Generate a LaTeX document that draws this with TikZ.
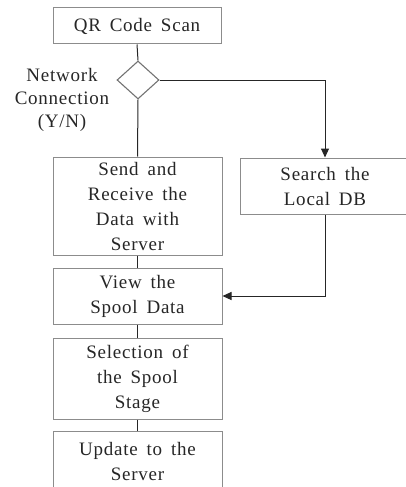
\documentclass[tikz,border=0pt]{standalone}
\usepackage{fontspec}
\setmainfont{Liberation Serif}[LetterSpace=4,WordSpace=1.6]
\usetikzlibrary{shapes.geometric,arrows.meta}
\tikzset{
  box/.style={draw=black!45, line width=1pt, rectangle, inner sep=0pt, align=center,
    font=\fontsize{19}{25}\selectfont, text=black!85},
  dec/.style={draw=black!55, line width=1.1pt, diamond, inner sep=0pt, minimum width=42pt, minimum height=38pt},
  conn/.style={draw=black!85, line width=1pt},
  arr/.style={conn, -{Triangle[length=9pt,width=8pt]}},
  lbl/.style={align=center, font=\fontsize{19}{23}\selectfont, text=black!85}
}
\begin{document}
\begin{tikzpicture}[x=1pt,y=1pt]
\useasboundingbox (0,0) rectangle (405,-487);
\node[box, minimum width=168pt, minimum height=36pt] (qr) at (137,-26) {QR Code Scan};
\node[dec] (net) at (138,-80) {};
\node[lbl] (netlabel) at (62,-100) {Network\\Connection\\(Y/N)};
\node[box, minimum width=169pt, minimum height=98pt] (send) at (137.5,-206) {Send and\\Receive the\\Data with\\Server};
\node[box, minimum width=170pt, minimum height=56pt] (search) at (325,-186) {Search the\\Local DB};
\node[box, minimum width=169pt, minimum height=56pt] (view) at (137.5,-296) {View the\\Spool Data};
\node[box, minimum width=169pt, minimum height=81pt] (sel) at (137.5,-378.5) {Selection of\\the Spool\\Stage};
\node[box, minimum width=169pt, minimum height=60pt] (upd) at (137.5,-461) {Update to the\\Server};
\draw[conn] (qr.south) -- (net.north);
\draw[conn] (net.south) -- (send.north);
\draw[conn] (send.south) -- (view.north);
\draw[conn] (view.south) -- (sel.north);
\draw[conn] (sel.south) -- (upd.north);
\draw[arr] (net.east) -| (search.north);
\draw[arr] (search.south) |- (view.east);
\end{tikzpicture}
\end{document}
